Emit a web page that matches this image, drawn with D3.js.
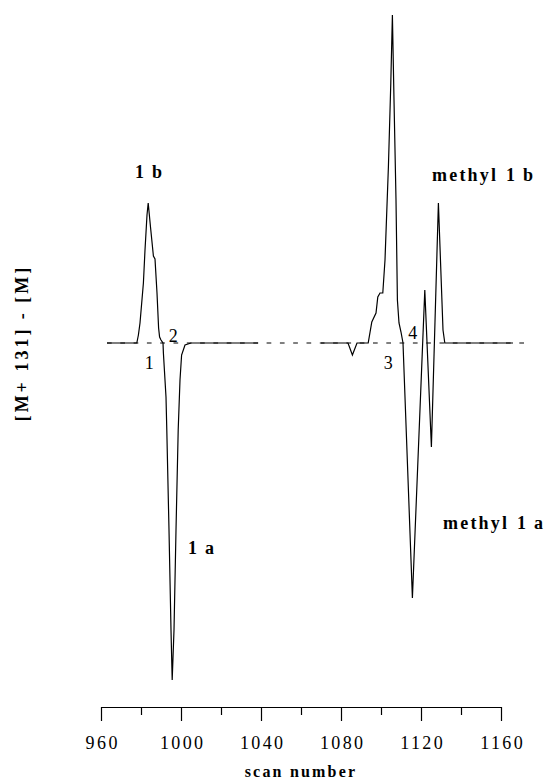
<!DOCTYPE html>
<html>
<head>
<meta charset="utf-8">
<script src="https://cdn.jsdelivr.net/npm/d3@7"></script>
<style>
  body { margin: 0; background: #fff; }
  svg { display: block; }
  svg text { font-family: "Liberation Serif", "Times New Roman", "DejaVu Serif", serif; }
</style>
</head>
<body>
<div id="graf"></div>
<script>
// Data
const scansLeft = [963, 977.9, 978.7, 979.5, 981.2, 982, 983, 983.6, 984.8, 986.2, 987, 988, 988.8, 989.3, 990, 991,
  991.2, 992.5, 992.9, 994, 995, 995.6, 996.5, 997.5, 998.6, 999.5, 1000.3, 1002, 1003.5, 1005, 1038.6]
const signalLeft = [0, 0, 8, 20, 60, 93, 128, 140, 115, 87, 84, 50, 15, 6, 3, 0,
  -10, -54, -87, -187, -287, -337, -287, -187, -87, -37, -12, -2, -1, 0, 0]

const scansRight = [1070, 1083.5, 1085.7, 1088, 1093.6, 1095.4, 1097.5, 1098.4, 1099.5, 1100.9, 1102, 1103.7, 1104.9,
  1105.7, 1106.5, 1107.5, 1108.2, 1109, 1110, 1111, 1115.7, 1121.9, 1125.2, 1128.7, 1131, 1131.9, 1166]
const signalRight = [0, 0, -12, 0, 0, 21, 30, 46, 50, 50, 83, 176, 260,
  328, 243, 143, 43, 20, 11, 0, -255, 53, -104, 140, 13, 0, 0]

const baselineScans = [963, 1173]
const majorTicks = [960, 1000, 1040, 1080, 1120, 1160]
const minorTicks = [980, 1020, 1060, 1100, 1140]

const peakNames = ["1b", "1a", "methyl 1b", "methyl 1a"]
const peakNumbers = ["1", "2", "3", "4"]

const draw = (el) => {
  const graf = d3.select(el)
  const ancho = 553
  const alto = 782

  const svg = graf
    .append("svg")
    .attr("width", ancho)
    .attr("height", alto)

  // Escaladores
  const x = d3.scaleLinear().domain([960, 1160]).range([101, 501])
  const y = d3.scaleLinear().domain([-340, 330]).range([683, 13])

  // Linea base punteada
  svg
    .append("line")
    .attr("x1", x(baselineScans[0]))
    .attr("x2", x(baselineScans[1]))
    .attr("y1", y(0))
    .attr("y2", y(0))
    .attr("stroke", "#000")
    .attr("stroke-width", 1)
    .attr("stroke-dasharray", "4.7,8.6")

  // Trazos
  const linea = d3.line()
    .x((d) => x(d[0]))
    .y((d) => y(d[1]))

  const series = [
    d3.zip(scansLeft, signalLeft),
    d3.zip(scansRight, signalRight)
  ]

  svg
    .append("g")
    .selectAll("path")
    .data(series)
    .join("path")
    .attr("d", linea)
    .attr("fill", "none")
    .attr("stroke", "#000")
    .attr("stroke-width", 1.2)

  // Eje X
  const ejeY = 707
  const gMinor = svg
    .append("g")
    .attr("transform", `translate(0, ${ejeY})`)
    .call(d3.axisBottom(x).tickValues(minorTicks).tickSize(8).tickSizeOuter(0).tickFormat(""))
  gMinor.select(".domain").remove()

  const gMajor = svg
    .append("g")
    .attr("transform", `translate(0, ${ejeY})`)
    .call(d3.axisBottom(x).tickValues(majorTicks).tickSize(14).tickSizeOuter(0).tickPadding(15).tickFormat(d3.format("d")))

  svg.selectAll(".tick line, .domain").attr("stroke", "#000").attr("stroke-width", 1.2)
  gMajor
    .selectAll("text")
    .attr("font-family", null)
    .attr("font-size", 18)
    .attr("letter-spacing", "2.4px")
    .attr("dx", "1.2px")
    .attr("fill", "#000")

  svg
    .append("text")
    .attr("x", x(1060))
    .attr("y", 777)
    .attr("text-anchor", "middle")
    .attr("font-weight", "bold")
    .attr("font-size", 16)
    .attr("letter-spacing", "2.2px")
    .text("scan number")

  // Eje Y (solo etiqueta)
  svg
    .append("text")
    .attr("transform", `translate(28, ${y(0)}) rotate(-90)`)
    .attr("text-anchor", "middle")
    .attr("font-weight", "bold")
    .attr("font-size", 18)
    .attr("letter-spacing", "3px")
    .text("[M+ 131] - [M]")

  // Etiquetas de picos
  const nombres = [
    { t: peakNames[0], x: 135, y: 178 },
    { t: peakNames[1], x: 188, y: 554 },
    { t: peakNames[2], x: 432, y: 181 },
    { t: peakNames[3], x: 443, y: 529 }
  ]
  svg
    .append("g")
    .selectAll("text")
    .data(nombres)
    .join("text")
    .attr("x", (d) => d.x)
    .attr("y", (d) => d.y)
    .attr("font-weight", "bold")
    .attr("font-size", 18)
    .attr("letter-spacing", "2.2px")
    .attr("word-spacing", "1px")
    .text((d) => d.t.replace("1", "1\u2009"))

  const numeros = [
    { t: peakNumbers[0], x: 149.3, y: 369 },
    { t: peakNumbers[1], x: 173.3, y: 341.5 },
    { t: peakNumbers[2], x: 388.3, y: 368.5 },
    { t: peakNumbers[3], x: 412.7, y: 339 }
  ]
  svg
    .append("g")
    .selectAll("text")
    .data(numeros)
    .join("text")
    .attr("x", (d) => d.x)
    .attr("y", (d) => d.y)
    .attr("text-anchor", "middle")
    .attr("font-size", 18)
    .text((d) => d.t)
}

draw("#graf")
</script>
</body>
</html>
